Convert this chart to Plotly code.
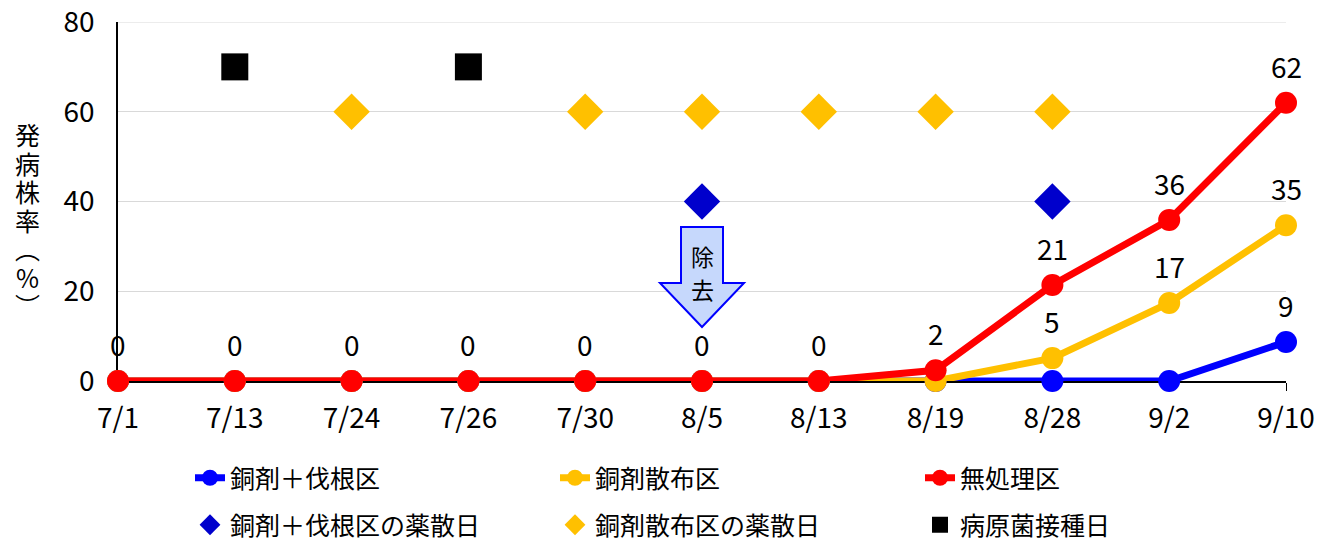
import plotly.graph_objects as go

dates = ["7/1", "7/13", "7/24", "7/26", "7/30", "8/5", "8/13", "8/19", "8/28", "9/2", "9/10"]
copper_stump = [0, 0, 0, 0, 0, 0, 0, 0, 0, 0, 8.7]
copper_spray = [0, 0, 0, 0, 0, 0, 0, 0, 5.1, 17.4, 34.7]
untreated = [0, 0, 0, 0, 0, 0, 0, 2.4, 21.4, 35.9, 62]

# which points carry a data label
stump_labeled = [False] * 10 + [True]
spray_labeled = [False] * 8 + [True, True, True]
untreated_labeled = [True] * 11

stump_spray_dates = ["8/5", "8/28"]
stump_spray_level = [40, 40]
copper_spray_dates = ["7/24", "7/30", "8/5", "8/13", "8/19", "8/28"]
copper_spray_level = [60, 60, 60, 60, 60, 60]
inoculation_dates = ["7/13", "7/26"]
inoculation_level = [70, 70]

y_title_chars = ["発", "病", "株", "率", "︵", "%", "︶"]
y_ticks = [0, 20, 40, 60, 80]

FONT = "Noto Sans CJK JP"
NUMSIZE = 28
LEGSIZE = 25

# plot area in pixels
L, R, T, B = 118, 1286, 22, 381
W, H = R - L, B - T

fig = go.Figure()

line_series = [
    ("銅剤＋伐根区", copper_stump, stump_labeled, "#0000FF"),
    ("銅剤散布区", copper_spray, spray_labeled, "#FFC000"),
    ("無処理区", untreated, untreated_labeled, "#FF0000"),
]
for name, vals, flags, color in line_series:
    fig.add_trace(go.Scatter(
        x=dates, y=vals, name=name, mode="lines+markers",
        line=dict(color=color, width=7),
        marker=dict(color=color, size=22),
        cliponaxis=False, legend="legend",
    ))

# data labels
for name, vals, flags, color in line_series:
    for d, v, f in zip(dates, vals, flags):
        if f:
            fig.add_annotation(
                x=d, y=v, xref="x", yref="y", text=str(int(round(v))),
                showarrow=False, yshift=37,
                font=dict(family=FONT, size=NUMSIZE, color="#000000"),
            )

fig.add_trace(go.Scatter(
    x=stump_spray_dates, y=stump_spray_level, name="銅剤＋伐根区の薬散日", mode="markers",
    marker=dict(symbol="diamond", color="#0000CC", size=28),
    cliponaxis=False, legend="legend2",
))
fig.add_trace(go.Scatter(
    x=copper_spray_dates, y=copper_spray_level, name="銅剤散布区の薬散日", mode="markers",
    marker=dict(symbol="diamond", color="#FFC000", size=28),
    cliponaxis=False, legend="legend2",
))
fig.add_trace(go.Scatter(
    x=inoculation_dates, y=inoculation_level, name="病原菌接種日", mode="markers",
    marker=dict(symbol="square", color="#000000", size=27),
    cliponaxis=False, legend="legend2",
))

# top gridline (plotly drops the grid line sitting on the range edge)
fig.add_shape(
    type="line", xref="paper", yref="y", x0=0, x1=1, y0=y_ticks[-1], y1=y_ticks[-1],
    line=dict(color="#D9D9D9", width=1.2), layer="below",
)

# removal arrow (block arrow drawn in pixel offsets anchored at 8/5, y=0)
fig.add_shape(
    type="path", xref="x", yref="y",
    xsizemode="pixel", ysizemode="pixel", xanchor=5, yanchor=0,
    path="M -21,154 L 21,154 L 21,98 L 42,98 L 0,54 L -42,98 L -21,98 Z",
    fillcolor="#C6D8FC", line=dict(color="#0000FF", width=2), layer="above",
)
for ch, py in (("除", 256), ("去", 289)):
    fig.add_annotation(
        x=5, y=(B - py) / H * 80, xref="x", yref="y", text=ch, showarrow=False,
        xanchor="center", yanchor="middle",
        font=dict(family=FONT, size=23, color="#000000"),
    )

# vertical y-axis title, one character per line
for i, ch in enumerate(y_title_chars):
    py = 134 + 28.5 * i
    fig.add_annotation(
        x=(27 - L) / W, xref="paper", y=(B - py) / H, yref="paper",
        text=ch, showarrow=False, xanchor="center", yanchor="middle",
        font=dict(family=FONT, size=25, color="#000000"),
    )


def leg(x, y):
    return dict(x=x, y=y, xanchor="left", yanchor="middle", orientation="h",
                entrywidth=320, entrywidthmode="pixels",
                font=dict(family=FONT, size=LEGSIZE, color="#000000"),
                bgcolor="rgba(0,0,0,0)", borderwidth=0, itemwidth=30)


fig.update_layout(
    width=1320, height=541,
    margin=dict(l=L, r=1320 - R, t=T, b=541 - B, autoexpand=False),
    paper_bgcolor="#FFFFFF", plot_bgcolor="#FFFFFF",
    font=dict(family=FONT, size=NUMSIZE, color="#000000"),
    showlegend=True,
    legend=leg((190 - L) / W, (B - 478) / H),
    legend2=leg((190 - L) / W, (B - 525) / H),
    xaxis=dict(
        type="category", categoryorder="array", categoryarray=dates,
        range=[0, 10], showgrid=False, showline=True, linecolor="#000000", linewidth=1.5,
        ticks="outside", ticklen=8, tickcolor="#000000", automargin=False,
        tickfont=dict(family=FONT, size=NUMSIZE), layer="below traces",
        ticklabelstandoff=4,
    ),
    yaxis=dict(
        range=[0, 80.001], tickvals=y_ticks, showgrid=True,
        gridcolor="#D9D9D9", gridwidth=1.2, showline=True, linecolor="#000000", linewidth=1.5,
        ticks="", zeroline=False, tickfont=dict(family=FONT, size=NUMSIZE),
        layer="below traces", ticklabelstandoff=16, automargin=False,
        ticklabeloverflow="allow",
    ),
)

fig.write_html(
    "out.html",
    config={"displayModeBar": False},
    post_script="document.body.style.margin='0';document.body.style.overflow='hidden';",
)
